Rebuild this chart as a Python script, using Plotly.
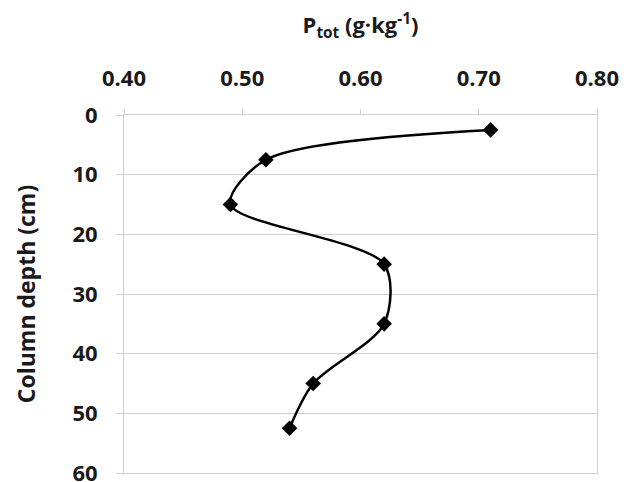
import plotly.graph_objects as go

# P_tot (g/kg) by column depth (cm)
p_tot = [0.71, 0.52, 0.49, 0.62, 0.62, 0.56, 0.54]
depth = [2.5, 7.5, 15, 25, 35, 45, 52.5]

x_ticks = [0.40, 0.50, 0.60, 0.70, 0.80]
y_ticks = [0, 10, 20, 30, 40, 50, 60]

FONT = "Open Sans"
TXT = "#1a1a1a"
GRID = "#cfcfcf"

fig = go.Figure()
fig.add_trace(go.Scatter(
    x=p_tot, y=depth,
    mode="lines+markers",
    line=dict(color="black", width=2.5, shape="spline", smoothing=0.85),
    marker=dict(symbol="diamond", size=12, color="black"),
    showlegend=False,
))

# page body adds an 8px offset; figure runs past the window bottom so "60" is cut like the original
fig.update_layout(
    width=626, height=482,
    margin=dict(l=116, r=37, t=107, b=17),
    paper_bgcolor="white",
    plot_bgcolor="white",
    font=dict(family=FONT, color=TXT),
)

fig.update_xaxes(
    side="top",
    range=[0.4, 0.8],
    tickvals=x_ticks,
    ticktext=[f"<b>{v:.2f}</b>" for v in x_ticks],
    tickfont=dict(size=22, family=FONT, color=TXT),
    showgrid=False,
    zeroline=False,
    showline=True, mirror=True, linecolor=GRID, linewidth=1,
    ticks="outside", ticklen=5, tickcolor=GRID,
    ticklabelstandoff=14,
    ticklabeloverflow="allow",
    automargin=False,
    title=dict(
        text="<b>P<sub>tot</sub> (g·kg<sup>-1</sup>)</b>",
        font=dict(size=22, family=FONT, color=TXT),
        standoff=31,
    ),
)

fig.update_yaxes(
    range=[60, 0],
    tickvals=y_ticks,
    ticktext=[f"<b>{v}</b>" for v in y_ticks],
    tickfont=dict(size=22, family=FONT, color=TXT),
    showgrid=True, gridcolor=GRID, gridwidth=1,
    zeroline=False,
    showline=True, mirror=True, linecolor=GRID, linewidth=1,
    ticks="outside", ticklen=7, tickcolor=GRID,
    ticklabelstandoff=14,
    ticklabeloverflow="allow",
    automargin=False,
    title=dict(
        text="<b>Column depth (cm)</b>",
        font=dict(size=23, family=FONT, color=TXT),
        standoff=30,
    ),
)

fig.write_html("out.html")
